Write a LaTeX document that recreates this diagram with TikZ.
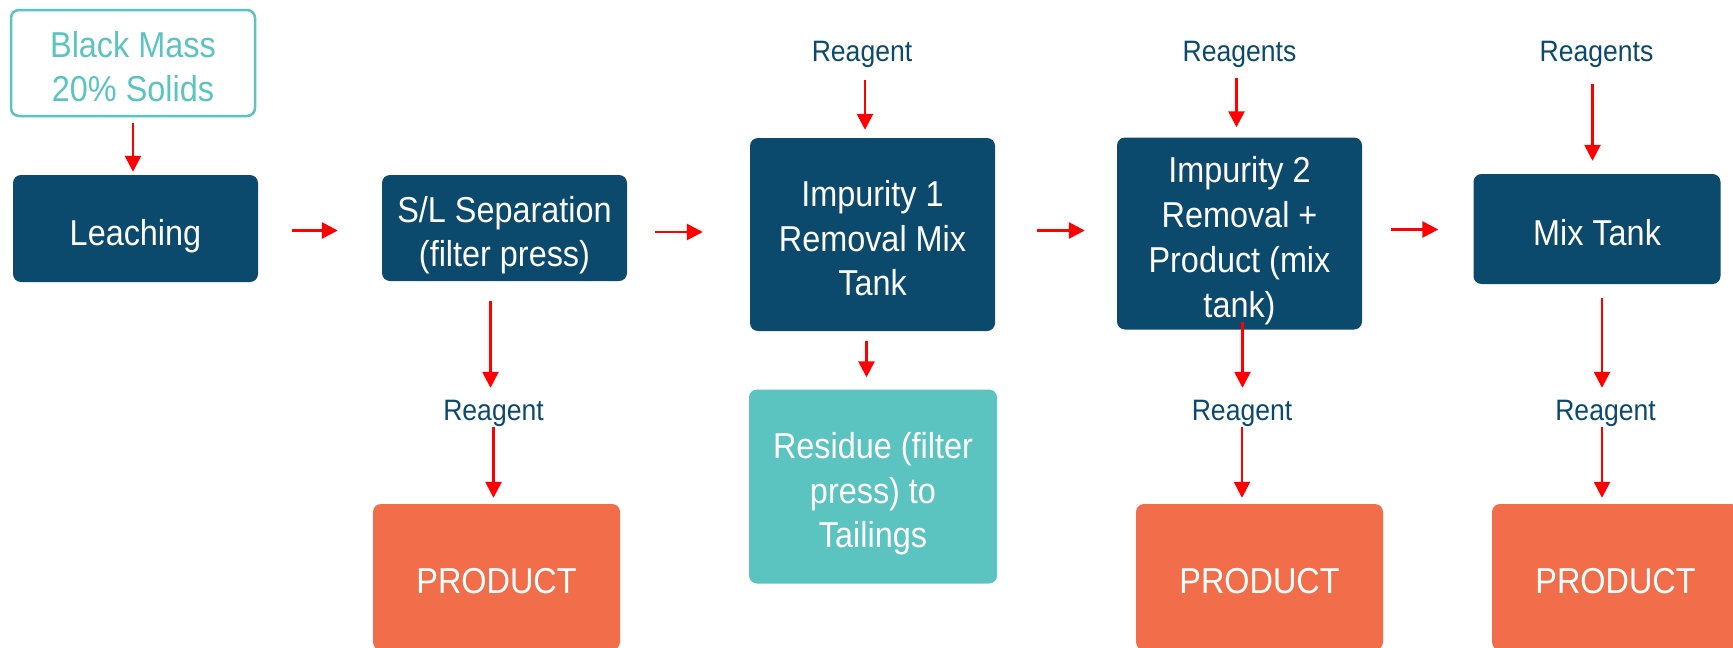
\documentclass[tikz,border=0pt]{standalone}
\usepackage{fontspec}
\setmainfont{Liberation Sans}[FakeStretch=0.9]
\usetikzlibrary{arrows.meta,calc}
\definecolor{navy}{HTML}{0B4A6D}
\definecolor{teal}{HTML}{5BC4C0}
\definecolor{coral}{HTML}{F26E4B}
\definecolor{arrred}{HTML}{FF0000}
\newcommand\ts{\rule{0pt}{42pt}}
\newcommand\bs{\rule[-9pt]{0pt}{9pt}}
\tikzset{
  box/.style={rounded corners=8pt, inner sep=0pt, align=center, text=white,
    minimum width=245pt, font=\fontsize{36}{44.7}\selectfont},
  procbox/.style={box, fill=navy},
  prodbox/.style={box, fill=coral, minimum height=146pt},
  resbox/.style={box, fill=teal},
  feedbox/.style={box, draw=teal, line width=2.5pt, fill=white, text=teal},
  lbl/.style={anchor=base, inner sep=0pt, text=navy, text height=22pt, text depth=7pt,
    font=\fontsize{29.5}{36}\selectfont},
  arr/.style={draw=arrred, line width=2.6pt, -{Triangle[length=16pt,width=16pt]}}
}
\begin{document}
\begin{tikzpicture}[x=1pt,y=-1pt]
\useasboundingbox (0,0) rectangle (1733,648);
% process boxes
\node[feedbox, minimum width=244pt, minimum height=106pt] (bm) at (133,63) {\ts Black Mass\\20\% Solids\bs};
\node[procbox, minimum height=107pt] (leach) at (135.5,228.5) {\ts Leaching\bs};
\node[procbox, minimum height=106pt] (sl) at (504.5,228) {\ts S/L Separation\\(filter press)\bs};
\node[procbox, minimum height=193pt] (imp1) at (872.5,234.5) {\ts Impurity 1\\Removal Mix\\Tank\bs};
\node[resbox, minimum width=248pt, minimum height=194pt] (res) at (873,486.5) {\ts Residue (filter\\press) to\\Tailings\bs};
\node[procbox, minimum height=192pt] (imp2) at (1239.5,233.5) {\ts Impurity 2\\Removal +\\Product (mix\\tank)\bs};
\node[procbox, minimum width=247pt, minimum height=110pt] (mix) at (1597,229) {\ts Mix Tank\bs};
\node[prodbox, minimum width=247pt] (p1) at (496.5,577) {\ts PRODUCT\bs};
\node[prodbox, minimum width=247pt] (p2) at (1259.5,577) {\ts PRODUCT\bs};
\node[prodbox, minimum width=247pt] (p3) at (1615.5,577) {\ts PRODUCT\bs};
% labels
\node[lbl] (rgt1) at (862,61) {Reagent};
\node[lbl] (rgs2) at (1239.5,61) {Reagents};
\node[lbl] (rgs3) at (1596.5,61) {Reagents};
\node[lbl] (rg1) at (493.5,420) {Reagent};
\node[lbl] (rg2) at (1242,420) {Reagent};
\node[lbl] (rg3) at (1605.5,420) {Reagent};
% arrows along main line
\draw[arr, shorten <=6pt, shorten >=3pt] (bm.south) -- (bm.south |- leach.north);
\draw[arr, shorten <=34pt, shorten >=44pt] ($(leach.east)+(0,2)$) -- ($(leach.east -| sl.west)+(0,2)$);
\draw[arr, shorten <=28pt, shorten >=47pt] ($(sl.east)+(0,4)$) -- ($(sl.east -| imp1.west)+(0,4)$);
\draw[arr, shorten <=42pt, shorten >=32pt] ($(imp1.east)+(0,-4)$) -- ($(imp1.east -| imp2.west)+(0,-4)$);
\draw[arr, shorten <=29pt, shorten >=35pt] ($(imp2.east)+(0,-4)$) -- ($(imp2.east -| mix.west)+(0,-4)$);
% reagent feeds on top
\coordinate (t1) at ($(rgt1.south)+(3,0)$);
\draw[arr, shorten <=12pt, shorten >=8pt] (t1) -- (t1 |- imp1.north);
\coordinate (t2) at ($(rgs2.south)+(-3,0)$);
\draw[arr, shorten <=10pt, shorten >=10pt] (t2) -- (t2 |- imp2.north);
\coordinate (t3) at ($(rgs3.south)+(-4,0)$);
\draw[arr, shorten <=16pt, shorten >=13pt] (t3) -- (t3 |- mix.north);
% downward branches
\coordinate (d1) at ($(sl.south)+(-14,0)$);
\draw[arr, shorten <=20pt, shorten >=10pt] (d1) -- (d1 |- rg1.north);
\draw[arr, shorten >=6pt] (rg1.south) -- (rg1.south |- p1.north);
\coordinate (d2) at ($(imp1.south)+(-6,0)$);
\draw[arr, shorten <=10pt, shorten >=12pt] (d2) -- (d2 |- res.north);
\coordinate (d3) at ($(imp2.south)+(3,-8)$);
\draw[arr, shorten >=10pt] (d3) -- (d3 |- rg2.north);
\draw[arr, shorten >=6pt] (rg2.south) -- (rg2.south |- p2.north);
\coordinate (d4) at ($(mix.south)+(5,0)$);
\draw[arr, shorten <=14pt, shorten >=10pt] (d4) -- (d4 |- rg3.north);
\coordinate (d5) at ($(rg3.south)+(-3.5,0)$);
\draw[arr, shorten >=6pt] (d5) -- (d5 |- p3.north);
\end{tikzpicture}
\end{document}
